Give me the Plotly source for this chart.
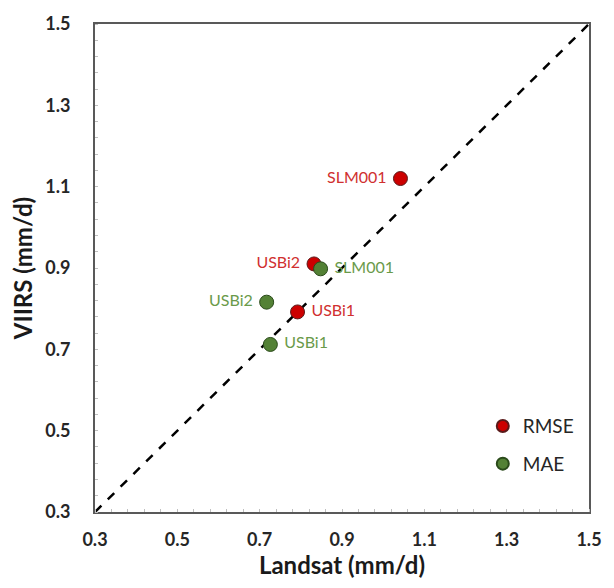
import plotly.graph_objects as go

# Site names and errors (mm/d): Landsat on x, VIIRS on y
rmse_sites = ["SLM001", "USBi2", "USBi1"]
rmse_landsat = [1.042, 0.832, 0.792]
rmse_viirs = [1.12, 0.910, 0.792]
rmse_textpos = ["middle left", "middle left", "middle right"]

mae_sites = ["SLM001", "USBi2", "USBi1"]
mae_landsat = [0.848, 0.717, 0.726]
mae_viirs = [0.898, 0.816, 0.712]
mae_textpos = ["middle right", "middle left", "middle right"]

axis_range = [0.3, 1.5]
tick_vals = [0.3, 0.5, 0.7, 0.9, 1.1, 1.3, 1.5]
tick_text = ["0.3", "0.5", "0.7", "0.9", "1.1", "1.3", "1.5"]

RED = "#cc0000"
GREEN = "#538135"
RED_TXT = "#d03030"
GREEN_TXT = "#6a9a4a"
FONT = "Lato, 'Open Sans', sans-serif"


def pad(labels, positions):
    return [s + " " if p.endswith("left") else " " + s for s, p in zip(labels, positions)]


fig = go.Figure()

# 1:1 reference line
fig.add_trace(go.Scatter(
    x=axis_range, y=axis_range, mode="lines",
    line=dict(color="black", width=2.5, dash="dash"),
    showlegend=False, hoverinfo="skip",
))

fig.add_trace(go.Scatter(
    x=rmse_landsat, y=rmse_viirs, mode="markers+text", name="RMSE",
    legendgroup="rmse",
    text=pad(rmse_sites, rmse_textpos), textposition=rmse_textpos,
    textfont=dict(color=RED_TXT, size=16, family=FONT),
    marker=dict(color=RED, size=14, line=dict(color="#5a1a1a", width=1)),
))

fig.add_trace(go.Scatter(
    x=mae_landsat, y=mae_viirs, mode="markers+text", name="MAE",
    legendgroup="mae",
    text=pad(mae_sites, mae_textpos), textposition=mae_textpos,
    textfont=dict(color=GREEN_TXT, size=16, family=FONT),
    marker=dict(color=GREEN, size=14, line=dict(color="#2a4a1a", width=1)),
))

axis_common = dict(
    range=axis_range, tickvals=tick_vals, ticktext=tick_text,
    showgrid=False, zeroline=False,
    showline=True, linecolor="#595959", linewidth=2, mirror=True,
    ticks="", tickfont=dict(size=18, family=FONT, color="#262626", weight="bold"),
    minor=dict(dtick=0.04, tick0=0.3, ticks="inside", ticklen=3, tickcolor="#bfbfbf", tickwidth=1),
)

fig.update_xaxes(
    **axis_common, ticklabelstandoff=10,
    title=dict(text="Landsat (mm/d)", font=dict(size=24, family=FONT, color="#1a1a1a", weight="bold"), standoff=9),
)
fig.update_yaxes(
    **axis_common, ticklabelstandoff=19,
    title=dict(text="VIIRS (mm/d)", font=dict(size=24, family=FONT, color="#1a1a1a", weight="bold"), standoff=6),
)

fig.update_layout(
    width=614, height=588,
    margin=dict(l=95, r=15, t=23, b=76),
    plot_bgcolor="white", paper_bgcolor="white",
    legend=dict(
        x=0.785, y=0.215, xanchor="left", yanchor="top",
        font=dict(size=19, family=FONT, color="#262626"),
        bgcolor="rgba(0,0,0,0)", itemsizing="constant", tracegroupgap=10,
    ),
)

fig.write_html("out.html")
